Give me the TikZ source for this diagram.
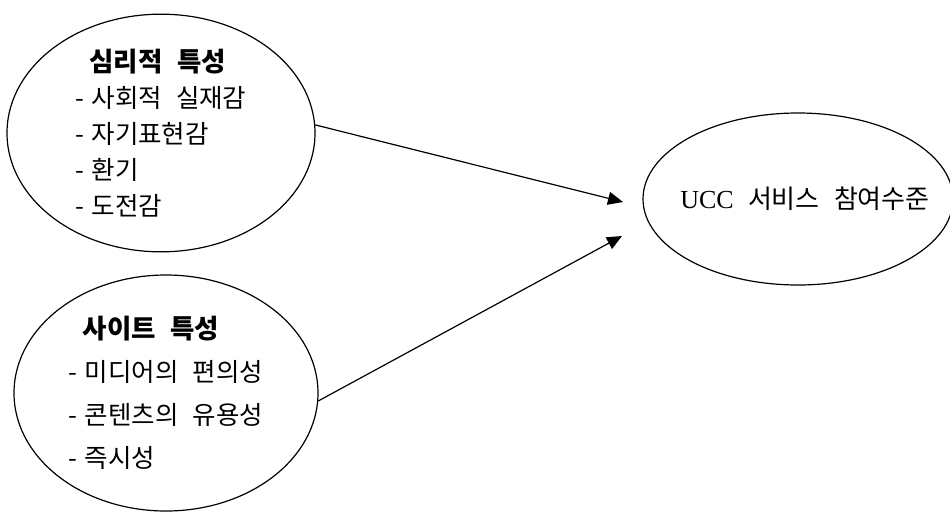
\documentclass[tikz,border=0pt]{standalone}
\usepackage{fontspec}
\setmainfont{Noto Sans CJK KR}
\newfontfamily\latinserif{Liberation Serif}
\usetikzlibrary{arrows.meta,shapes.geometric}
\newcommand{\itm}{\makebox[16pt][l]{-}}
\newcommand{\ttl}{\hspace*{14pt}}
\newcommand{\gap}{\hspace{0.55em}}
\begin{document}
\begin{tikzpicture}[x=1pt,y=-1pt,
  bubble/.style={draw, ellipse, line width=1.2pt, inner sep=0pt, align=left},
  link/.style={line width=1.2pt, -{Triangle[length=15pt,width=13pt]}}]
\useasboundingbox (0,0) rectangle (950,512);
\node[bubble, minimum width=308pt, minimum height=236pt,
      font=\fontsize{25.5}{36}\selectfont] (psy) at (161,133)
  {\ttl{\fontsize{26.5}{36}\selectfont\textbf{심리적\gap 특성}}\\ \itm 사회적\gap 실재감\hspace*{12pt}\\ \itm 자기표현감\\ \itm 환기\\ \itm 도전감};
\node[bubble, minimum width=304pt, minimum height=236pt,
      font=\fontsize{25.5}{43}\selectfont] (site) at (166,393)
  {\ttl{\fontsize{26.5}{43}\selectfont\textbf{사이트\gap 특성}}\\ \itm 미디어의\gap 편의성\\ \itm 콘텐츠의\gap 유용성\hspace*{4pt}\\ \itm 즉시성};
\node[bubble, minimum width=310pt, minimum height=172pt,
      font=\fontsize{26}{30}\selectfont] (ucc) at (798,199)
  {\makebox[0pt]{\hspace*{14pt}{\latinserif UCC}\gap 서비스\gap 참여수준}};
\coordinate (e1) at (623,202);
\coordinate (e2) at (622,236);
\draw[link] (psy.3) -- (e1);
\draw[link] (site.-3) -- (e2);
\end{tikzpicture}
\end{document}
